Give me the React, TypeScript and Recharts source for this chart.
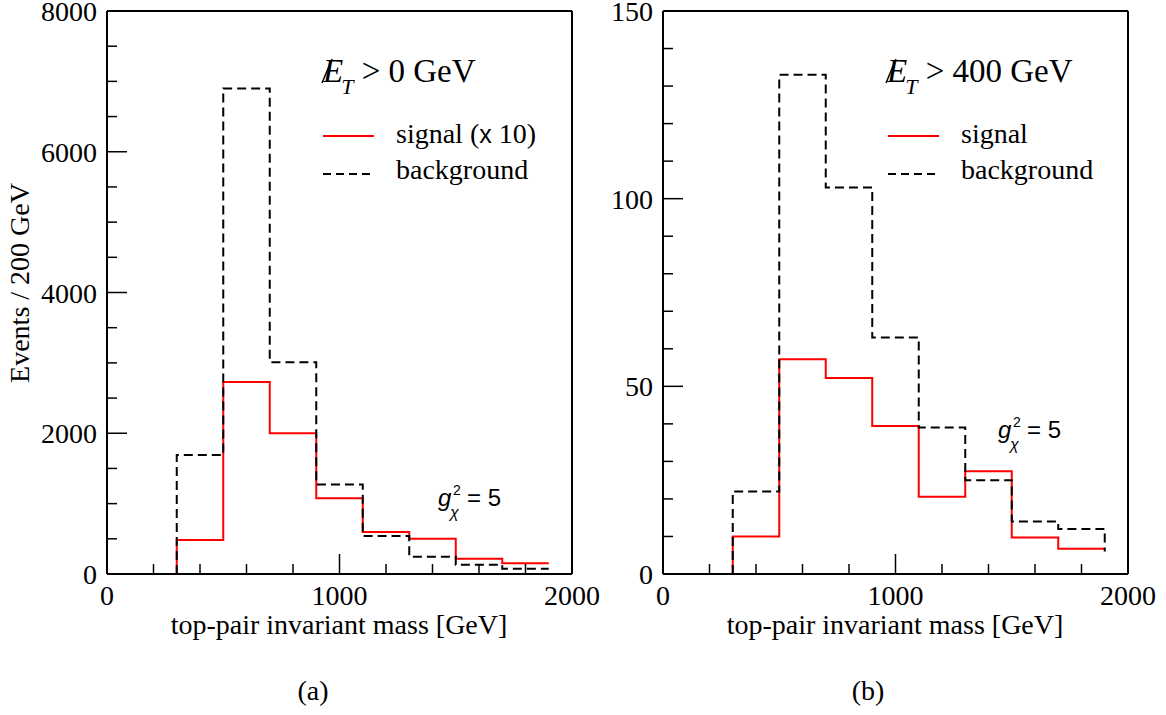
import { LineChart, Line, XAxis, YAxis } from 'recharts';

// bin edges of the top-pair invariant mass histograms [GeV]
const edges = [300, 500, 700, 900, 1100, 1300, 1500, 1700, 1900];

// (a) missing ET > 0 GeV, signal scaled by 10
const signalA = [483, 2730, 2000, 1075, 597, 502, 218, 152];
const backgroundA = [1690, 6900, 3010, 1270, 540, 246, 132, 75];

// (b) missing ET > 400 GeV
const signalB = [10, 57.2, 52.2, 39.4, 20.6, 27.4, 9.7, 6.7];
const backgroundB = [22, 133, 103, 63, 39, 25, 14, 12];
const backgroundBEnd = 6;

const xTicks = [0, 200, 400, 600, 800, 1000, 1200, 1400, 1600, 1800, 2000];
const xMajor = [0, 1000, 2000];
const yTicksA = [0, 500, 1000, 1500, 2000, 2500, 3000, 3500, 4000, 4500, 5000, 5500, 6000, 6500, 7000, 7500, 8000];
const yMajorA = [0, 2000, 4000, 6000, 8000];
const yTicksB = [0, 10, 20, 30, 40, 50, 60, 70, 80, 90, 100, 110, 120, 130, 140, 150];
const yMajorB = [0, 50, 100, 150];

const SERIF = '"Liberation Serif", "Times New Roman", serif';
const SANS = '"Liberation Sans", Arial, sans-serif';

function toRows(sig: number[], bg: number[], bgEnd?: number) {
  const rows: { m: number; sig: number | null; bg: number }[] = [{ m: edges[0], sig: 0, bg: 0 }];
  sig.forEach((s, i) => rows.push({ m: edges[i + 1], sig: s, bg: bg[i] }));
  if (bgEnd != null) rows.push({ m: edges[edges.length - 1], sig: null, bg: bgEnd });
  return rows;
}

// inward ticks, label only on the major ones
function makeTick(side: 'bottom' | 'top' | 'left' | 'right', majors: number[], labels: boolean) {
  return (props: any) => {
    const { x, y, payload } = props;
    const v = payload.value;
    const major = majors.includes(v);
    const len = major ? 20 : 10;
    let x2 = x;
    let y2 = y;
    if (side === 'bottom') y2 = y - len;
    if (side === 'top') y2 = y + len;
    if (side === 'left') x2 = x + len;
    if (side === 'right') x2 = x - len;
    return (
      <g>
        <line x1={x} y1={y} x2={x2} y2={y2} stroke="#000" strokeWidth={1.5} />
        {labels && major && side === 'bottom' && (
          <text x={x} y={y + 31} textAnchor="middle" fontFamily={SERIF} fontSize={28} fill="#000">
            {v}
          </text>
        )}
        {labels && major && side === 'left' && (
          <text x={x - 10} y={y + 10} textAnchor="end" fontFamily={SERIF} fontSize={28} fill="#000">
            {v}
          </text>
        )}
      </g>
    );
  };
}

const frame = { stroke: '#000', strokeWidth: 2 };

function Panel({ rows, yMax, yTicks, yMajor, margin }: any) {
  return (
    <LineChart width={600} height={715} data={rows} margin={margin}>
      <XAxis dataKey="m" type="number" domain={[0, 2000]} ticks={xTicks} interval={0} height={1}
        tickSize={0} tickMargin={0} tickLine={false} axisLine={frame} tick={makeTick('bottom', xMajor, true)} />
      <XAxis xAxisId="top" orientation="top" type="number" domain={[0, 2000]} ticks={xTicks} interval={0} height={1}
        tickSize={0} tickMargin={0} tickLine={false} axisLine={frame} tick={makeTick('top', xMajor, false)} />
      <YAxis type="number" domain={[0, yMax]} ticks={yTicks} interval={0} width={1}
        tickSize={0} tickMargin={0} tickLine={false} axisLine={frame} tick={makeTick('left', yMajor, true)} />
      <YAxis yAxisId="right" orientation="right" type="number" domain={[0, yMax]} ticks={yTicks} interval={0} width={1}
        tickSize={0} tickMargin={0} tickLine={false} axisLine={frame} tick={makeTick('right', yMajor, false)} />
      <Line dataKey="sig" type="stepBefore" stroke="#ff0000" strokeWidth={2} dot={false} isAnimationActive={false} />
      <Line dataKey="bg" type="stepBefore" stroke="#000" strokeWidth={2} strokeDasharray="9 5" dot={false} isAnimationActive={false} />
    </LineChart>
  );
}

function Title({ x, cut }: { x: number; cut: string }) {
  return (
    <g>
      <text x={x} y={82} fontFamily={SERIF} fontSize={33} fill="#000">
        <tspan fontStyle="italic">E</tspan>
        <tspan fontStyle="italic" fontSize={22} dx={-2} dy={12}>T</tspan>
        <tspan dy={-12}>{` > ${cut} GeV`}</tspan>
      </text>
      <line x1={x - 1} y1={83} x2={x + 9} y2={59} stroke="#000" strokeWidth={1.5} />
    </g>
  );
}

function Coupling({ x, y }: { x: number; y: number }) {
  return (
    <g fontFamily={SANS} fill="#000">
      <text x={x} y={y} fontSize={24} fontStyle="italic">g</text>
      <text x={x + 12} y={y + 12} fontSize={16} fontStyle="italic">χ</text>
      <text x={x + 15} y={y - 11} fontSize={14}>2</text>
      <text x={x + 29} y={y} fontSize={24}>= 5</text>
    </g>
  );
}

function Legend({ x, signalText }: { x: number; signalText: React.ReactNode }) {
  return (
    <g fontFamily={SERIF} fontSize={28} fill="#000">
      <line x1={x} y1={136} x2={x + 51} y2={136} stroke="#ff0000" strokeWidth={2} />
      <text x={x + 73} y={143}>{signalText}</text>
      <line x1={x} y1={174} x2={x + 51} y2={174} stroke="#000" strokeWidth={2} strokeDasharray="8 5" />
      <text x={x + 73} y={179}>background</text>
    </g>
  );
}

export default function App() {
  return (
    <div style={{ position: 'absolute', left: 0, top: 0, width: 1166, height: 715, background: '#fff', overflow: 'hidden' }}>
      <div style={{ position: 'absolute', left: 0, top: 0 }}>
        <Panel rows={toRows(signalA, backgroundA)} yMax={8000} yTicks={yTicksA} yMajor={yMajorA}
          margin={{ top: 10, left: 106, right: 27, bottom: 140 }} />
      </div>
      <div style={{ position: 'absolute', left: 566, top: 0 }}>
        <Panel rows={toRows(signalB, backgroundB, backgroundBEnd)} yMax={150} yTicks={yTicksB} yMajor={yMajorB}
          margin={{ top: 10, left: 96, right: 37, bottom: 140 }} />
      </div>
      <svg width={1166} height={715} style={{ position: 'absolute', left: 0, top: 0, pointerEvents: 'none' }}>
        <Title x={323} cut="0" />
        <Title x={887} cut="400" />
        <Legend x={323} signalText={<>signal (<tspan fontFamily={SANS} fontSize={25}>x</tspan> 10)</>} />
        <Legend x={888} signalText="signal" />
        <Coupling x={438} y={506} />
        <Coupling x={998} y={438} />
        <text x={339} y={634} textAnchor="middle" fontFamily={SERIF} fontSize={28} fill="#000">
          top-pair invariant mass [GeV]
        </text>
        <text x={895} y={634} textAnchor="middle" fontFamily={SERIF} fontSize={28} fill="#000">
          top-pair invariant mass [GeV]
        </text>
        <text transform="translate(29 283) rotate(-90)" textAnchor="middle" fontFamily={SERIF} fontSize={28} fill="#000">
          Events / 200 GeV
        </text>
        <text x={313} y={700} textAnchor="middle" fontFamily={SERIF} fontSize={28} fill="#000">(a)</text>
        <text x={868} y={700} textAnchor="middle" fontFamily={SERIF} fontSize={28} fill="#000">(b)</text>
      </svg>
    </div>
  );
}
